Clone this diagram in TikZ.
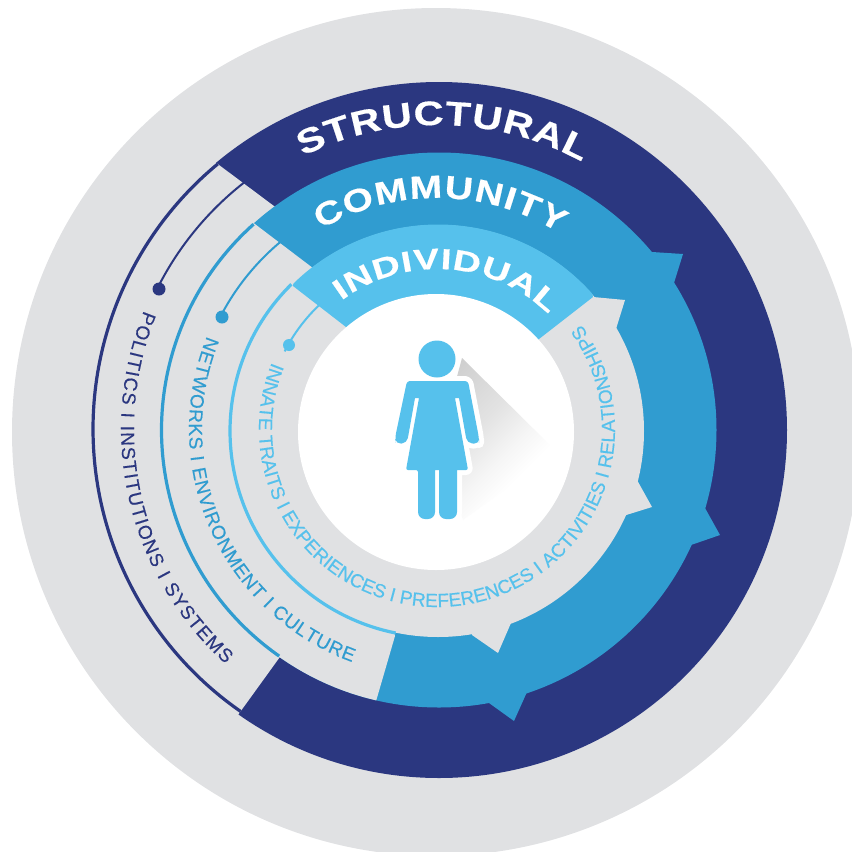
\documentclass[tikz,border=0pt]{standalone}
\usepackage{fontspec}
\setmainfont{Liberation Sans}
\newfontfamily\ringfont[FakeBold=0.5]{Liberation Sans Bold}
\newfontfamily\smallfont[FakeBold=0.35]{Liberation Sans}
\usetikzlibrary{decorations.text}
\definecolor{ringgrey}{HTML}{E0E1E3}
\definecolor{structcol}{HTML}{2B3780}
\definecolor{commcol}{HTML}{309CD0}
\definecolor{indivcol}{HTML}{56C1EC}
\pgfdeclareverticalshading{shadowfade}{100bp}{color(0bp)=(white); color(35bp)=(white); color(45bp)=(white!96!black); color(58bp)=(white!89!black); color(80bp)=(white!81!black); color(100bp)=(white!81!black)}
\tikzset{
	ringlabel/.style n args={3}{decorate,decoration={text along path,text align={fit to path},
		text={|\ringfont\addfontfeature{FakeStretch=#2}\fontsize{#1}{#1}\selectfont\color{white}|#3}}},
	smalllabel/.style 2 args={decorate,decoration={text along path,text align={fit to path},
		text={|\smallfont\fontsize{19}{19}\selectfont\color{#1}|#2}}},
}
\begin{document}
\begin{tikzpicture}[x=1pt,y=-1pt]
	\useasboundingbox (0,0) rectangle (852,852);
	\clip (0,0) rectangle (852,852);
	\fill[ringgrey] (436,432) circle[radius=424];
	% structural disc
	\fill[structcol] (439,430) circle[radius=348];
	\fill[ringgrey] (207,156)--(100,200)--(60,430)--(100,660)--(230,726)--(290,643)--(330,420)--(290,218)--cycle;
	% community disc and its teeth
	\fill[commcol] (439,430) circle[radius=277.5];
	\fill[commcol] (652,252)--(683,254)--(674,283)--(640,300)--cycle;
	\fill[commcol] (705,508)--(720,535)--(691,545)--(660,500)--cycle;
	\fill[commcol] (527,692)--(514,721)--(489,703)--(500,670)--cycle;
	\begin{scope}
		\clip (439,430) circle[radius=277.5];
		\fill[ringgrey] (245,216.5)--(330,281)--(395,636)--(372,715)--(100,700)--(100,200)--cycle;
	\end{scope}
	% individual disc and its teeth
	\fill[ringgrey] (438,431) circle[radius=206];
	\fill[ringgrey] (593,297)--(625,300)--(616,329)--(580,340)--cycle;
	\fill[ringgrey] (637,480)--(652,507)--(623,516)--(600,480)--cycle;
	\fill[ringgrey] (511,623)--(498,653)--(472,635)--(480,600)--cycle;
	\begin{scope}
		\clip (293,286)--(346,327)--(436,432)--(539,339)--(593,297)--(560,120)--(320,120)--cycle;
		\fill[indivcol] (438,431) circle[radius=206.5];
	\end{scope}
	\fill[white] (436,432) circle[radius=138];
	% person with shadow
	\shade[y=1pt,shading=shadowfade,shading angle=45] (462,-358)--(557,-452)--(463,-520)--(440,-440)--cycle;
	\def\personpath{(437,359) circle[radius=18.5]
		(412,381) [rounded corners=3]--(407,381) [rounded corners=5]--(395,438)--(396,444)--(407,443)[rounded corners=0.5]--(415,398)--(419,398)
		[rounded corners=2]--(406,470)--(418,470)[rounded corners=7]--(418,519)--(435,519)[rounded corners=0]--(435,470)--(439,470)
		[rounded corners=7]--(439,519)--(457,519)[rounded corners=0]--(457,470)[rounded corners=2]--(468,470)
		[rounded corners=0.5]--(455,398)--(459,398)[rounded corners=5]--(467,443)--(479,444)--(479,438)[rounded corners=3]--(468,381)--cycle}
	\draw[white,line width=10,line join=round] \personpath;
	\fill[indivcol] \personpath;
	% arcs and dots on the left
	\draw[structcol,line width=3.2] (437,429)+(230.4:344) arc[start angle=230.4,end angle=124.8,radius=344];
	\draw[commcol,line width=3.2] (437.5,430)+(228.2:276) arc[start angle=228.2,end angle=125,radius=276];
	\draw[indivcol,line width=3.2] (436,431)+(225.4:206) arc[start angle=225.4,end angle=101.3,radius=206];
	\begin{scope}[shift={(437,429)}]
		\draw[structcol,line width=2] (232.5:313) arc[start angle=232.5,end angle=207,radius=313];
		\draw[commcol,line width=2] (230.5:244) arc[start angle=230.5,end angle=207,radius=244];
		\draw[indivcol,line width=2] (226.5:171) arc[start angle=226.5,end angle=207,radius=171];
		\path[ringlabel={34}{1.22}{STRUCTURAL}] (243.8:304) arc[start angle=243.8,end angle=298.5,radius=304];
		\path[ringlabel={32}{1.22}{COMMUNITY}] (239.8:231) arc[start angle=239.8,end angle=302,radius=231];
		\path[ringlabel={29}{1.33}{INDIVIDUAL}] (233.3:160) arc[start angle=233.3,end angle=314.2,radius=160];
		\path[smalllabel={structcol}{POLITICS I INSTITUTIONS I SYSTEMS}] (202:316) arc[start angle=202,end angle=132,radius=316];
		\path[smalllabel={commcol}{NETWORKS I ENVIRONMENT I CULTURE}] (202:248) arc[start angle=202,end angle=110,radius=248];
		\path[smalllabel={indivcol}{INNATE TRAITS I EXPERIENCES I PREFERENCES I ACTIVITIES I RELATIONSHIPS}] (202:178) arc[start angle=202,end angle=-36,radius=178];
	\end{scope}
	\fill[structcol] (159,289) circle[radius=6.5];
	\fill[commcol] (222,317) circle[radius=6.5];
	\fill[indivcol] (289,345) circle[radius=6];
\end{tikzpicture}
\end{document}
